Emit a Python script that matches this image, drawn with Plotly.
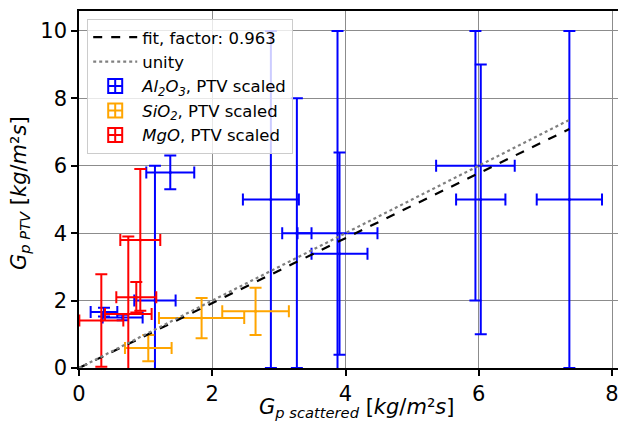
import plotly.graph_objects as go

# Al2O3, PTV scaled
al_x = [2.88, 3.27, 3.88, 3.91, 1.37, 1.14, 0.375, 0.655, 5.95, 6.03, 7.36]
al_y = [5.0, 4.0, 4.0, 3.39, 5.8, 2.0, 1.66, 1.50, 6.0, 5.0, 5.0]
al_xerr = [0.42, 0.22, 0.6, 0.42, 0.36, 0.31, 0.2, 0.3, 0.59, 0.37, 0.49]
al_yerr = [5.0, 4.0, 6.0, 3.0, 0.5, 4.0, 0.13, 0.08, 4.0, 4.0, 5.0]

# SiO2, PTV scaled
si_x = [1.04, 1.84, 2.65]
si_y = [0.59, 1.48, 1.68]
si_xerr = [0.35, 0.64, 0.5]
si_yerr = [0.39, 0.6, 0.7]

# MgO, PTV scaled
mg_x = [0.335, 0.74, 0.92, 0.86]
mg_y = [1.41, 1.6, 3.8, 2.1]
mg_xerr = [0.33, 0.35, 0.3, 0.3]
mg_yerr = [1.37, 2.3, 2.1, 0.45]

fit_factor = 0.963

x_ticks = [0, 2, 4, 6, 8]
y_ticks = [0, 2, 4, 6, 8, 10]

FONT = "DejaVu Sans"
fig = go.Figure()

series = [
    ("<i>Al<sub>2</sub>O<sub>3</sub></i>, PTV scaled", "#0000ff", al_x, al_y, al_xerr, al_yerr),
    ("<i>SiO<sub>2</sub></i>, PTV scaled", "#ffa500", si_x, si_y, si_xerr, si_yerr),
    ("<i>MgO</i>, PTV scaled", "#ff0000", mg_x, mg_y, mg_xerr, mg_yerr),
]

for name, col, xs, ys, xe, ye in series:
    fig.add_trace(go.Scatter(
        x=xs, y=ys, mode="markers", showlegend=False, cliponaxis=True,
        marker=dict(color=col, size=3),
        error_x=dict(type="data", array=xe, color=col, thickness=2, width=6),
        error_y=dict(type="data", array=ye, color=col, thickness=2, width=6),
    ))

xmax = max(al_x + si_x + mg_x)
fig.add_trace(go.Scatter(
    x=[0, xmax], y=[0, fit_factor * xmax], mode="lines",
    name=f"fit, factor: {fit_factor}",
    line=dict(color="black", width=2.2, dash="dash"),
))
fig.add_trace(go.Scatter(
    x=[0, xmax], y=[0, xmax], mode="lines", name="unity",
    line=dict(color="#808080", width=2.2, dash="dot"),
))

for name, col, *_ in series:
    fig.add_trace(go.Scatter(
        x=[None], y=[None], mode="markers", name=name,
        marker=dict(symbol="square-cross-open", color=col, size=14, line=dict(color=col, width=2)),
    ))

fig.update_layout(
    width=618, height=425,
    margin=dict(l=71, r=0, t=3, b=65, autoexpand=False),
    paper_bgcolor="white", plot_bgcolor="white",
    font=dict(family=FONT, size=20, color="black"),
    legend=dict(
        x=0.015, y=0.978, xanchor="left", yanchor="top",
        bgcolor="rgba(255,255,255,0.8)", bordercolor="#cccccc", borderwidth=1,
        font=dict(family=FONT, size=16.5, color="black"),
        itemwidth=44,
    ),
    xaxis=dict(
        range=[0, 8.21], tickvals=x_ticks, ticktext=[str(v) for v in x_ticks],
        showgrid=True, gridcolor="#8c8c8c", gridwidth=1.3,
        showline=True, linecolor="black", linewidth=1.5, mirror=True,
        ticks="outside", ticklen=6, tickwidth=1.5, tickcolor="black",
        zeroline=False, automargin=False,
        tickfont=dict(size=21),
    ),
    yaxis=dict(
        range=[0, 10.59], tickvals=y_ticks, ticktext=[str(v) for v in y_ticks],
        showgrid=True, gridcolor="#8c8c8c", gridwidth=1.3,
        showline=True, linecolor="black", linewidth=1.5, mirror=False,
        ticks="outside", ticklen=6, tickwidth=1.5, tickcolor="black",
        zeroline=False, automargin=False,
        tickfont=dict(size=21),
    ),
    annotations=[
        dict(text="<i>G<sub>p scattered</sub></i> [<i>kg</i>/<i>m</i>²<i>s</i>]",
             xref="paper", yref="paper", x=0.508, y=-0.113, xanchor="center", yanchor="middle",
             showarrow=False, font=dict(size=21)),
        dict(text="<i>G<sub>p PTV</sub></i> [<i>kg</i>/<i>m</i>²<i>s</i>]",
             xref="paper", yref="paper", x=-0.108, y=0.49, xanchor="center", yanchor="middle",
             textangle=-90, showarrow=False, font=dict(size=21)),
    ],
)

fig.write_html("out.html")
